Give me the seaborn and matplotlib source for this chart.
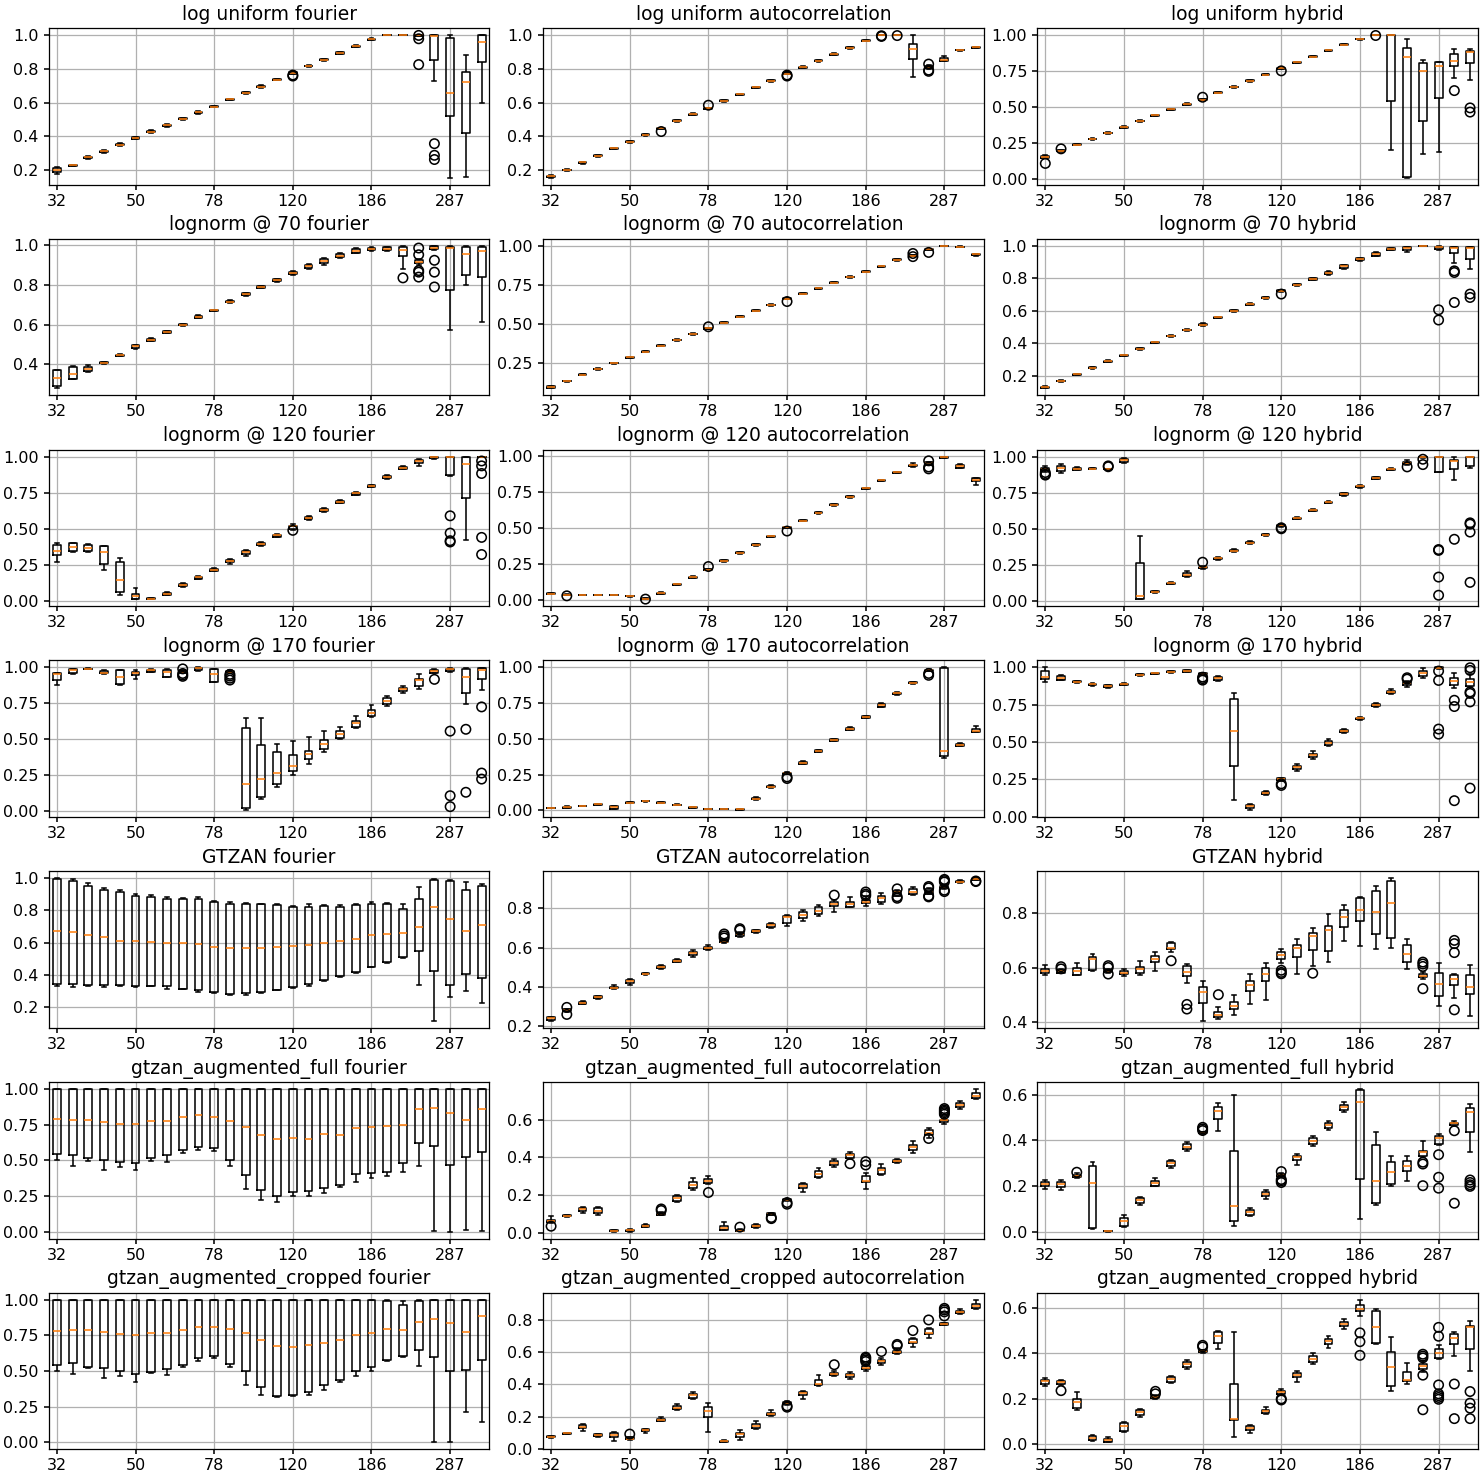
import matplotlib
matplotlib.use("Agg")
import matplotlib.pyplot as plt
from matplotlib.ticker import MaxNLocator
import pandas as pd
import seaborn as sns

# Tempo bins (BPM): 28 log-spaced bins, labelled every fifth bin
N_BINS = 28
TEMPO_TICKS = ["32", "50", "78", "120", "186", "287"]

# Each bin holds the per-run accuracy values; *_OUT lists hold (bin, value) outliers.

# ---- log uniform ----
LU_FOURIER = [
    [.175, .19, .20, .21, .215], [.222, .227, .232], [.266, .275, .283], [.302, .31, .317],
    [.342, .35, .357], [.382, .39, .397], [.418, .427, .435], [.457, .464, .471],
    [.497, .503, .509], [.533, .541, .548], [.572, .576, .580], [.612, .618, .623],
    [.651, .657, .662], [.688, .695, .702], [.731, .736, .741], [.768, .772, .776, .78, .783],
    [.811, .817, .822], [.848, .854, .86], [.887, .894, .90], [.928, .935, .941],
    [.968, .974, .98], [1.0, 1.0, 1.0], [1.0, 1.0, 1.0], [.995, .997, 1.0, 1.0, 1.0],
    [.73, .852, .995, 1.0, 1.0], [.155, .519, .657, .982, 1.0], [.159, .419, .722, .783, .882],
    [.6, .838, .957, 1.0, 1.0],
]
LU_FOURIER_OUT = [(15, .757), (15, .763), (23, .998), (23, .978), (23, .825),
                  (24, .356), (24, .287), (24, .262)]

LU_AUTO = [
    [.155, .162, .168], [.195, .2, .204], [.238, .245, .25], [.279, .285, .29],
    [.324, .329, .333], [.36, .368, .373], [.401, .408, .413], [.44, .446, .45],
    [.485, .491, .496], [.524, .529, .535], [.562, .566, .57], [.605, .61, .615],
    [.643, .648, .653], [.684, .69, .695], [.724, .729, .734], [.768, .772, .776],
    [.805, .81, .814], [.843, .848, .852], [.882, .887, .891], [.92, .925, .93],
    [.962, .966, .97], [.998, 1.0, 1.0], [1.0, 1.0, 1.0], [.754, .857, .917, .947, 1.0],
    [.80, .806, .812, .816, .82], [.845, .848, .855, .862, .875], [.907, .911, .914],
    [.922, .927, .931],
]
LU_AUTO_OUT = [(7, .428), (10, .584), (15, .757), (15, .763), (21, .992), (21, .996),
               (22, .997), (24, .828), (24, .792), (24, .785)]

LU_HYBRID = [
    [.145, .15, .156, .16, .165], [.19, .197, .203], [.235, .241, .246], [.274, .28, .285],
    [.316, .321, .326], [.356, .362, .367], [.398, .404, .408], [.437, .443, .448],
    [.478, .484, .489], [.515, .521, .526], [.547, .553, .558], [.596, .601, .606],
    [.634, .64, .645], [.677, .683, .688], [.72, .725, .73], [.765, .771, .775],
    [.807, .812, .816], [.846, .851, .856], [.889, .894, .898], [.928, .933, .937],
    [.968, .972, .976], [.999, 1.0, 1.0], [.202, .544, .998, 1.0, 1.0],
    [.012, .016, .846, .911, .975], [.172, .404, .748, .805, .826],
    [.186, .564, .784, .812, .814], [.702, .789, .819, .872, .901], [.686, .807, .885, .89, .9],
]
LU_HYBRID_OUT = [(0, .11), (1, .211), (10, .569), (15, .752), (21, .997), (26, .615),
                 (27, .495), (27, .466)]

# ---- lognorm @ 70 ----
LN70_FOURIER = [
    [.277, .29, .33, .368, .372], [.322, .324, .352, .385, .388], [.36, .366, .377, .385, .394],
    [.401, .407, .412], [.44, .445, .449], [.476, .482, .489, .494, .498],
    [.516, .519, .524, .529, .532], [.555, .557, .561, .565, .567], [.595, .599, .602],
    [.632, .635, .639, .643, .646], [.668, .672, .675], [.71, .713, .716, .72, .722],
    [.742, .748, .753, .758, .762], [.783, .786, .789, .793, .796], [.816, .819, .823, .828, .832],
    [.85, .855, .861, .865, .869], [.88, .888, .895, .9, .905], [.9, .91, .92, .93, .937],
    [.935, .94, .948, .958, .963], [.96, .963, .972, .982, .985], [.972, .975, .982, .988, .99],
    [.973, .977, .983, .99, .993], [.88, .945, .978, .993, .995], [.9, .91, .916, .925, .93],
    [.975, .98, .987, .995, .998], [.572, .773, .987, .993, .995], [.798, .851, .958, .993, .995],
    [.614, .84, .973, .993, .995],
]
LN70_FOURIER_OUT = [(22, .836), (23, .987), (23, .953), (23, .873), (23, .865), (23, .84),
                    (24, .925), (24, .865), (24, .79)]

LN70_AUTO = [
    [.086, .096, .1], [.128, .132, .135], [.169, .174, .178], [.205, .21, .214],
    [.244, .248, .251], [.279, .284, .289], [.317, .322, .326], [.356, .36, .364],
    [.391, .396, .4], [.43, .434, .438], [.465, .47, .474], [.504, .508, .512],
    [.542, .546, .55], [.579, .584, .588], [.616, .62, .624], [.657, .662, .666],
    [.689, .694, .698], [.723, .727, .731], [.759, .763, .767], [.795, .8, .804],
    [.831, .835, .839], [.865, .869, .873], [.906, .911, .915], [.933, .937, .942],
    [.972, .977, .981], [.997, .999, 1.0], [.99, .994, .997], [.937, .945, .949],
]
LN70_AUTO_OUT = [(10, .481), (15, .643), (23, .951), (23, .931), (24, .958)]

LN70_HYBRID = [
    [.122, .128, .134], [.162, .167, .172], [.202, .208, .213], [.243, .249, .254],
    [.282, .288, .294], [.32, .325, .33], [.36, .366, .372], [.4, .405, .41],
    [.439, .444, .449], [.476, .481, .486], [.505, .514, .522], [.553, .559, .564],
    [.594, .6, .605], [.634, .641, .647], [.673, .68, .686], [.717, .723, .728],
    [.752, .757, .76, .764, .768], [.787, .79, .795, .8, .805], [.822, .828, .834, .842, .848],
    [.857, .865, .877, .882, .885], [.905, .91, .918, .925, .928], [.935, .94, .949, .955, .965],
    [.972, .975, .98, .984, .986], [.96, .975, .986, .99, .993], [.997, .999, 1.0],
    [.973, .982, .99, .995, .997], [.897, .953, .986, .99, .993], [.856, .922, .986, .99, .993],
]
LN70_HYBRID_OUT = [(15, .703), (25, .606), (25, .543), (26, .846), (26, .836), (26, .651),
                   (27, .703), (27, .682)]

# ---- lognorm @ 120 ----
LN120_FOURIER = [
    [.269, .315, .347, .384, .4], [.34, .342, .375, .398, .4], [.34, .344, .366, .388, .395],
    [.211, .253, .338, .379, .382], [.039, .06, .143, .269, .297], [.011, .012, .03, .044, .085],
    [.01, .014, .017], [.037, .041, .046, .052, .062], [.097, .103, .11, .116, .125],
    [.147, .152, .161, .166, .172], [.203, .207, .214, .219, .228], [.255, .265, .274, .282, .29],
    [.31, .327, .338, .344, .35], [.38, .385, .393, .4, .408], [.44, .445, .453, .458, .462],
    [.493, .5, .515, .52, .53], [.56, .566, .575, .58, .586], [.617, .622, .63, .635, .64],
    [.675, .68, .687, .692, .697], [.733, .737, .745, .75, .755], [.788, .792, .798, .802, .806],
    [.848, .852, .86, .864, .87], [.912, .917, .924, .928, .932], [.932, .955, .968, .975, .985],
    [.985, .993, .998, 1.0, 1.0], [.866, .871, .999, 1.0, 1.0], [.423, .71, .949, 1.0, 1.0],
    [.995, .998, 1.0, 1.0, 1.0],
]
LN120_FOURIER_OUT = [(15, .488), (25, .589), (25, .469), (25, .416), (25, .407), (27, .97),
                     (27, .936), (27, .883), (27, .439), (27, .32)]

LN120_AUTO = [
    [.04, .042, .044], [.03, .033, .036], [.029, .03, .031], [.029, .03, .031],
    [.029, .03, .031], [.021, .023, .025], [.004, .007, .009], [.038, .044, .05],
    [.099, .105, .11], [.15, .156, .162], [.205, .209, .213], [.263, .27, .276],
    [.32, .326, .331], [.376, .381, .386], [.434, .44, .445], [.497, .502, .505],
    [.544, .549, .554], [.598, .605, .61], [.654, .66, .665], [.709, .716, .721],
    [.768, .774, .779], [.823, .83, .835], [.88, .886, .891], [.925, .928, .935, .938, .951],
    [.935, .94, .949, .955, .96], [.986, .991, .995], [.915, .918, .93, .94, .942],
    [.795, .825, .833, .845, .848],
]
LN120_AUTO_OUT = [(1, .026), (6, .003), (10, .23), (15, .477), (24, .966), (24, .923), (24, .91)]

LN120_HYBRID = [
    [.895, .905, .913, .918, .936], [.89, .899, .922, .936, .95], [.905, .91, .913, .918, .925],
    [.914, .917, .92], [.91, .913, .916], [.955, .96, .977, .985, .99],
    [.012, .014, .034, .261, .447], [.056, .058, .062, .066, .07], [.117, .119, .122, .126, .128],
    [.165, .17, .179, .19, .21], [.222, .225, .232, .238, .242], [.285, .288, .294, .298, .302],
    [.34, .343, .349, .353, .357], [.396, .399, .404, .408, .412], [.452, .455, .459, .463, .467],
    [.515, .518, .523, .526, .53], [.565, .568, .573, .577, .58], [.62, .623, .628, .632, .636],
    [.677, .68, .683, .687, .69], [.73, .734, .741, .745, .75], [.786, .789, .794, .798, .802],
    [.845, .848, .853, .857, .86], [.905, .908, .913, .917, .92], [.945, .95, .959, .965, .975],
    [.99, .995, 1.0, 1.0, 1.0], [.895, .897, .997, .998, 1.0], [.835, .913, .972, .975, .998],
    [.924, .936, .995, .998, 1.0],
]
LN120_HYBRID_OUT = [(0, .89), (0, .878), (0, .872), (4, .936), (4, .93), (10, .268), (15, .5),
                    (15, .507), (23, .929), (24, .982), (24, .945), (25, .356), (25, .35),
                    (25, .165), (25, .039), (26, .427), (27, .541), (27, .532), (27, .477),
                    (27, .128)]

# ---- lognorm @ 170 ----
LN170_FOURIER = [
    [.875, .912, .951, .958, .963], [.956, .958, .979, .986, .99], [.986, .99, .993],
    [.955, .958, .963, .975, .98], [.875, .882, .933, .981, .985], [.917, .944, .963, .97, .979],
    [.965, .968, .979, .984, .987], [.933, .935, .97, .984, .986], [.962, .965, .97, .975, .98],
    [.975, .985, .993, .998, 1.0], [.898, .9, .951, .986, .99], [.96, .965, .97, .975, .98],
    [.007, .019, .188, .576, .65], [.083, .1, .222, .461, .65], [.169, .188, .264, .414, .465],
    [.25, .275, .315, .389, .484], [.326, .361, .396, .419, .512], [.414, .435, .465, .493, .558],
    [.5, .505, .535, .558, .586], [.581, .588, .611, .625, .662], [.655, .663, .685, .7, .736],
    [.731, .748, .766, .789, .803], [.824, .836, .852, .86, .868], [.847, .87, .91, .921, .951],
    [.96, .963, .975, .983, .986], [.965, .972, .986, .99, .993], [.748, .824, .933, .991, .993],
    [.845, .917, .984, .993, .996],
]
LN170_FOURIER_OUT = [(8, .99), (8, .958), (8, .947), (8, .938), (11, .952), (11, .94),
                     (11, .925), (11, .912), (24, .917), (25, .556), (25, .106), (25, .03),
                     (26, .569), (26, .13), (27, .725), (27, .264), (27, .222)]

LN170_AUTO = [
    [.012, .014, .016], [.012, .015, .019, .024, .027], [.026, .028, .03], [.038, .04, .042],
    [.005, .007, .019, .03, .032], [.052, .054, .056], [.061, .063, .065], [.052, .054, .056],
    [.034, .037, .04], [.016, .019, .022], [.005, .007, .009], [.007, .009, .011],
    [.002, .005, .009], [.072, .076, .082, .088, .092], [.158, .161, .166, .17, .174],
    [.252, .255, .259, .262, .266], [.323, .326, .333, .338, .342], [.405, .408, .415, .42, .424],
    [.483, .486, .492, .497, .5], [.562, .565, .571, .577, .581], [.643, .646, .653, .658, .662],
    [.72, .725, .737, .742, .748], [.81, .813, .818, .822, .826], [.885, .888, .893, .897, .9],
    [.975, .978, .981, .984, .986], [.368, .38, .415, .998, 1.0], [.448, .452, .457, .461, .47],
    [.545, .547, .555, .567, .59],
]
LN170_AUTO_OUT = [(15, .233), (15, .222), (24, .958), (24, .945)]

LN170_HYBRID = [
    [.902, .92, .938, .976, 1.0], [.915, .918, .931, .945, .948], [.897, .9, .904, .908, .91],
    [.878, .88, .887, .892, .895], [.864, .868, .876, .882, .885], [.88, .883, .887, .891, .894],
    [.944, .947, .951, .955, .958], [.955, .96, .964], [.966, .971, .975],
    [.968, .971, .976, .98, .983], [.95, .953, .958, .962, .965], [.91, .918, .931, .936, .94],
    [.113, .342, .576, .791, .831], [.045, .055, .069, .08, .085], [.145, .15, .158, .168, .175],
    [.238, .243, .253, .258, .262], [.305, .318, .331, .338, .352], [.385, .398, .413, .42, .44],
    [.475, .482, .493, .505, .52], [.56, .565, .576, .582, .59], [.648, .652, .658, .664, .668],
    [.735, .74, .749, .755, .76], [.822, .828, .836, .842, .855], [.87, .882, .893, .9, .91],
    [.927, .945, .964, .975, .993], [.99, .995, .998, 1.0, 1.0], [.864, .88, .909, .927, .96],
    [.872, .876, .902, .92, .953],
]
LN170_HYBRID_OUT = [(10, .935), (10, .925), (10, .915), (15, .22), (15, .209), (23, .931),
                    (23, .922), (25, .976), (25, .913), (25, .587), (25, .553), (26, .78),
                    (26, .738), (26, .107), (27, .998), (27, .98), (27, .836), (27, .826),
                    (27, .769), (27, .191)]

# ---- GTZAN ----
GTZAN_FOURIER = [
    [.328, .345, .674, .996, 1.0], [.322, .345, .664, .984, .994], [.332, .334, .65, .949, .969],
    [.322, .338, .632, .929, .939], [.332, .338, .613, .915, .925], [.322, .332, .613, .888, .902],
    [.328, .332, .603, .884, .896], [.312, .328, .599, .874, .884], [.313, .314, .599, .872, .878],
    [.292, .308, .591, .874, .884], [.285, .292, .573, .853, .858], [.277, .281, .564, .843, .853],
    [.277, .288, .564, .837, .847], [.285, .292, .564, .837, .843], [.306, .308, .57, .833, .843],
    [.318, .324, .579, .823, .827], [.332, .345, .587, .823, .837], [.364, .365, .599, .825, .833],
    [.389, .393, .609, .823, .831], [.41, .42, .625, .833, .837], [.446, .45, .646, .837, .851],
    [.475, .477, .652, .841, .845], [.507, .511, .658, .811, .843], [.334, .548, .7, .868, .943],
    [.115, .426, .821, .99, .994], [.263, .338, .746, .984, .986], [.298, .406, .674, .929, .976],
    [.226, .381, .711, .953, .965],
]
GTZAN_FOURIER_OUT = []

GTZAN_AUTO = [
    [.228, .232, .24, .245, .248], [.272, .276, .282, .288, .29], [.312, .314, .319, .323, .326],
    [.34, .343, .348, .352, .356], [.392, .394, .397, .402, .408], [.412, .42, .43, .436, .44],
    [.462, .464, .467, .47, .473], [.49, .495, .501, .506, .51], [.525, .528, .533, .537, .54],
    [.555, .562, .572, .578, .59], [.59, .592, .597, .605, .615], [.625, .628, .631, .64, .645],
    [.655, .662, .67, .675, .68], [.676, .68, .684, .688, .692], [.7, .707, .717, .722, .727],
    [.712, .724, .758, .763, .768], [.734, .751, .768, .78, .792], [.76, .771, .788, .805, .817],
    [.78, .81, .825, .835, .844], [.806, .808, .822, .835, .856], [.814, .828, .835, .844, .864],
    [.822, .835, .852, .864, .881], [.865, .866, .884, .888, .892], [.869, .873, .884, .898, .911],
    [.872, .876, .884, .9, .905], [.9, .905, .91, .915, .92], [.93, .933, .937, .941, .944],
    [.945, .947, .949, .952, .954],
]
GTZAN_AUTO_OUT = [(1, .296), (1, .26), (11, .67), (11, .66), (11, .65), (12, .697), (12, .69),
                  (18, .868), (20, .884), (20, .873), (20, .865), (22, .9), (22, .86), (22, .852),
                  (24, .912), (24, .905), (24, .864), (24, .859), (25, .948), (25, .942),
                  (25, .935), (25, .893), (25, .886), (27, .937), (27, .94)]

GTZAN_HYBRID = [
    [.573, .581, .589, .596, .608], [.578, .58, .586, .59, .593], [.571, .573, .586, .597, .615],
    [.589, .591, .631, .639, .651], [.58, .582, .586, .59, .595], [.567, .575, .581, .587, .593],
    [.573, .581, .593, .603, .625], [.589, .621, .63, .644, .657], [.657, .669, .673, .69, .694],
    [.543, .569, .585, .605, .613], [.404, .468, .51, .527, .549], [.412, .417, .424, .436, .454],
    [.425, .448, .46, .474, .497], [.464, .512, .534, .551, .575], [.482, .551, .576, .597, .617],
    [.617, .63, .645, .657, .669], [.575, .637, .672, .682, .706], [.605, .663, .715, .726, .744],
    [.619, .66, .738, .754, .796], [.697, .748, .788, .812, .83], [.678, .772, .811, .857, .859],
    [.669, .724, .805, .883, .899], [.673, .709, .836, .92, .929], [.595, .619, .651, .682, .706],
    [.557, .565, .57, .576, .585], [.458, .494, .54, .579, .617], [.486, .534, .557, .573, .575],
    [.422, .504, .53, .573, .609],
]
GTZAN_HYBRID_OUT = [(1, .603), (1, .595), (4, .607), (4, .6), (4, .576), (8, .625), (9, .464),
                    (9, .447), (11, .5), (15, .59), (15, .582), (15, .577), (17, .579),
                    (24, .62), (24, .613), (24, .604), (24, .522), (26, .7), (26, .688),
                    (26, .655), (26, .444)]

# ---- gtzan_augmented_full ----
AUGFULL_FOURIER = [
    [.503, .543, .788, 1.0, 1.0], [.462, .538, .781, 1.0, 1.0], [.497, .513, .783, 1.0, 1.0],
    [.431, .503, .772, 1.0, 1.0], [.45, .49, .753, 1.0, 1.0], [.434, .478, .753, 1.0, 1.0],
    [.497, .513, .776, 1.0, 1.0], [.485, .538, .776, 1.0, 1.0], [.55, .573, .804, 1.0, 1.0],
    [.573, .594, .818, 1.0, 1.0], [.566, .585, .807, 1.0, 1.0], [.462, .503, .776, 1.0, 1.0],
    [.298, .399, .73, 1.0, 1.0], [.224, .291, .676, 1.0, 1.0], [.21, .252, .648, 1.0, 1.0],
    [.247, .275, .655, 1.0, 1.0], [.252, .287, .65, 1.0, 1.0], [.268, .303, .683, 1.0, 1.0],
    [.31, .329, .676, 1.0, 1.0], [.35, .403, .725, 1.0, 1.0], [.373, .41, .734, 1.0, 1.0],
    [.387, .42, .741, 1.0, 1.0], [.42, .478, .748, 1.0, 1.0], [.462, .618, .858, 1.0, 1.0],
    [.002, .601, .865, 1.0, 1.0], [0.0, .469, .83, 1.0, 1.0], [.014, .524, .783, 1.0, 1.0],
    [.005, .559, .858, 1.0, 1.0],
]
AUGFULL_FOURIER_OUT = []

AUGFULL_AUTO = [
    [.052, .058, .063, .072, .089], [.088, .09, .093, .096, .098], [.107, .115, .128, .133, .14],
    [.096, .105, .119, .133, .136], [.009, .011, .014, .017, .019], [.009, .012, .015, .018, .021],
    [.032, .035, .04, .045, .05], [.094, .097, .101, .105, .11], [.165, .168, .185, .195, .203],
    [.229, .241, .255, .268, .289], [.259, .264, .273, .285, .303], [.016, .019, .028, .037, .058],
    [.01, .012, .014, .017, .02], [.03, .034, .04, .044, .047], [.094, .097, .101, .105, .108],
    [.17, .174, .177, .18, .183], [.215, .236, .25, .261, .263], [.289, .299, .315, .329, .346],
    [.352, .36, .373, .38, .39], [.39, .398, .411, .42, .429], [.233, .268, .276, .303, .32],
    [.307, .315, .332, .342, .364], [.373, .377, .381, .385, .39], [.425, .44, .455, .468, .486],
    [.504, .518, .53, .544, .556], [.578, .585, .595, .6, .605], [.658, .665, .675, .685, .696],
    [.709, .712, .726, .74, .761],
]
AUGFULL_AUTO_OUT = [(0, .037), (7, .128), (7, .12), (10, .215), (12, .032), (14, .077),
                    (14, .083), (15, .162), (15, .153), (19, .367), (20, .378), (20, .36),
                    (24, .5), (25, .658), (25, .65), (25, .643), (25, .636), (25, .628)]

AUGFULL_HYBRID = [
    [.187, .199, .209, .216, .226], [.182, .197, .209, .219, .226], [.235, .238, .245, .25, .255],
    [.012, .015, .212, .289, .304], [0.0, .001, .003], [.021, .023, .044, .06, .073],
    [.117, .125, .139, .148, .153], [.198, .201, .213, .222, .234], [.279, .286, .301, .31, .314],
    [.355, .362, .372, .383, .391], [.428, .43, .432, .435, .438], [.442, .493, .53, .545, .562],
    [.026, .044, .111, .352, .6], [.067, .073, .085, .096, .104], [.143, .155, .165, .172, .18],
    [.24, .244, .248, .252, .256], [.293, .315, .326, .333, .34], [.377, .384, .396, .41, .42],
    [.447, .453, .467, .476, .486], [.523, .533, .545, .556, .566], [.055, .231, .569, .622, .625],
    [.117, .124, .223, .38, .435], [.201, .209, .26, .307, .33], [.223, .267, .286, .308, .33],
    [.328, .333, .347, .355, .396], [.38, .384, .409, .42, .428], [.465, .468, .474, .478, .486],
    [.347, .438, .526, .542, .559],
]
AUGFULL_HYBRID_OUT = [(2, .26), (10, .457), (10, .45), (10, .443), (15, .263), (15, .228),
                      (15, .222), (15, .215), (24, .304), (24, .296), (24, .201), (25, .337),
                      (25, .238), (25, .19), (26, .442), (26, .124), (27, .226), (27, .215),
                      (27, .205), (27, .198)]

# ---- gtzan_augmented_cropped ----
AUGCROP_FOURIER = [
    [.501, .543, .781, 1.0, 1.0], [.476, .554, .785, 1.0, 1.0], [.52, .527, .785, 1.0, 1.0],
    [.45, .522, .776, 1.0, 1.0], [.462, .501, .76, 1.0, 1.0], [.423, .48, .753, 1.0, 1.0],
    [.485, .492, .769, 1.0, 1.0], [.469, .515, .769, 1.0, 1.0], [.527, .545, .785, 1.0, 1.0],
    [.573, .589, .811, 1.0, 1.0], [.589, .607, .811, 1.0, 1.0], [.527, .55, .797, 1.0, 1.0],
    [.404, .497, .769, 1.0, 1.0], [.335, .388, .716, 1.0, 1.0], [.319, .326, .677, 1.0, 1.0],
    [.323, .33, .672, 1.0, 1.0], [.335, .353, .681, 1.0, 1.0], [.365, .404, .7, 1.0, 1.0],
    [.423, .439, .718, 1.0, 1.0], [.464, .497, .755, 1.0, 1.0], [.503, .527, .769, 1.0, 1.0],
    [.573, .58, .792, .993, 1.0], [.596, .603, .785, .965, .993], [.536, .649, .843, .995, .998],
    [0.0, .596, .868, 1.0, 1.0], [0.0, .497, .834, 1.0, 1.0], [.215, .508, .776, 1.0, 1.0],
    [.145, .577, .885, 1.0, 1.0],
]
AUGCROP_FOURIER_OUT = []

AUGCROP_AUTO = [
    [.065, .07, .074, .078, .08], [.09, .093, .095, .098, .1], [.111, .128, .138, .148, .155],
    [.075, .079, .085, .09, .094], [.05, .07, .085, .1, .105], [.055, .059, .062, .07, .075],
    [.097, .108, .115, .12, .125], [.172, .175, .177, .185, .2], [.243, .248, .256, .265, .275],
    [.31, .318, .332, .342, .355], [.105, .198, .235, .26, .285], [.04, .043, .047, .051, .054],
    [.055, .075, .091, .1, .115], [.12, .13, .142, .155, .175], [.205, .21, .214, .22, .24],
    [.27, .275, .285, .29, .295], [.31, .335, .346, .355, .36], [.39, .395, .404, .425, .46],
    [.45, .455, .462, .468, .48], [.435, .445, .456, .462, .477], [.482, .495, .503, .512, .52],
    [.522, .535, .542, .552, .565], [.59, .595, .6, .605, .625], [.632, .655, .666, .682, .69],
    [.69, .715, .72, .745, .75], [.768, .771, .775, .778, .782], [.84, .845, .852, .858, .865],
    [.865, .872, .889, .9, .925],
]
AUGCROP_AUTO_OUT = [(5, .091), (15, .266), (15, .258), (18, .522), (20, .569), (20, .561),
                    (20, .552), (20, .542), (21, .604), (22, .648), (22, .64), (23, .734),
                    (24, .8), (25, .872), (25, .862), (25, .85), (25, .825)]

AUGCROP_HYBRID = [
    [.255, .265, .277, .283, .29], [.262, .265, .272, .28, .284], [.149, .161, .186, .2, .229],
    [.016, .019, .029, .035, .043], [.009, .012, .019, .025, .033], [.055, .059, .081, .094, .099],
    [.12, .13, .142, .15, .154], [.2, .204, .21, .214, .218], [.27, .273, .287, .295, .301],
    [.33, .342, .351, .36, .37], [.402, .405, .409, .413, .416], [.417, .446, .475, .494, .5],
    [.033, .106, .113, .265, .494], [.052, .062, .074, .082, .087], [.132, .139, .146, .152, .164],
    [.218, .222, .229, .235, .243], [.275, .294, .304, .313, .323], [.352, .364, .377, .389, .4],
    [.422, .443, .454, .461, .478], [.507, .519, .529, .536, .552], [.562, .584, .596, .613, .635],
    [.443, .446, .514, .587, .594], [.236, .255, .342, .406, .472], [.265, .28, .283, .32, .359],
    [.319, .333, .345, .355, .367], [.374, .381, .4, .42, .435], [.388, .439, .468, .483, .494],
    [.323, .42, .514, .522, .543],
]
AUGCROP_HYBRID_OUT = [(1, .236), (7, .233), (7, .222), (10, .435), (10, .428), (15, .2),
                      (15, .195), (20, .49), (20, .451), (20, .391), (24, .396), (24, .388),
                      (24, .38), (24, .304), (24, .152), (25, .514), (25, .475), (25, .261),
                      (25, .222), (25, .214), (25, .206), (25, .198), (26, .265), (26, .113),
                      (27, .232), (27, .181), (27, .159), (27, .113)]

PANELS = [
    ("log uniform fourier", LU_FOURIER, LU_FOURIER_OUT),
    ("log uniform autocorrelation", LU_AUTO, LU_AUTO_OUT),
    ("log uniform hybrid", LU_HYBRID, LU_HYBRID_OUT),
    ("lognorm @ 70 fourier", LN70_FOURIER, LN70_FOURIER_OUT),
    ("lognorm @ 70 autocorrelation", LN70_AUTO, LN70_AUTO_OUT),
    ("lognorm @ 70 hybrid", LN70_HYBRID, LN70_HYBRID_OUT),
    ("lognorm @ 120 fourier", LN120_FOURIER, LN120_FOURIER_OUT),
    ("lognorm @ 120 autocorrelation", LN120_AUTO, LN120_AUTO_OUT),
    ("lognorm @ 120 hybrid", LN120_HYBRID, LN120_HYBRID_OUT),
    ("lognorm @ 170 fourier", LN170_FOURIER, LN170_FOURIER_OUT),
    ("lognorm @ 170 autocorrelation", LN170_AUTO, LN170_AUTO_OUT),
    ("lognorm @ 170 hybrid", LN170_HYBRID, LN170_HYBRID_OUT),
    ("GTZAN fourier", GTZAN_FOURIER, GTZAN_FOURIER_OUT),
    ("GTZAN autocorrelation", GTZAN_AUTO, GTZAN_AUTO_OUT),
    ("GTZAN hybrid", GTZAN_HYBRID, GTZAN_HYBRID_OUT),
    ("gtzan_augmented_full fourier", AUGFULL_FOURIER, AUGFULL_FOURIER_OUT),
    ("gtzan_augmented_full autocorrelation", AUGFULL_AUTO, AUGFULL_AUTO_OUT),
    ("gtzan_augmented_full hybrid", AUGFULL_HYBRID, AUGFULL_HYBRID_OUT),
    ("gtzan_augmented_cropped fourier", AUGCROP_FOURIER, AUGCROP_FOURIER_OUT),
    ("gtzan_augmented_cropped autocorrelation", AUGCROP_AUTO, AUGCROP_AUTO_OUT),
    ("gtzan_augmented_cropped hybrid", AUGCROP_HYBRID, AUGCROP_HYBRID_OUT),
]

LW = 1.13
fig, axes = plt.subplots(7, 3, figsize=(14.8, 14.79), dpi=100)
fig.subplots_adjust(left=0.0331, right=0.9986, top=0.9811, bottom=0.0200,
                    wspace=0.122, hspace=0.345)
order = list(range(N_BINS))

for ax, (title, boxes, outliers) in zip(axes.flat, PANELS):
    rows = [(i, v) for i, sample in enumerate(boxes) for v in sample]
    df = pd.DataFrame(rows, columns=["bin", "accuracy"])
    sns.boxplot(
        data=df, x="bin", y="accuracy", order=order, whis=(0, 100), width=0.5,
        fill=False, color="black", linewidth=LW, showfliers=False,
        medianprops={"color": "#ff7f0e"}, ax=ax,
    )
    if outliers:
        od = pd.DataFrame(outliers, columns=["bin", "accuracy"])
        sns.scatterplot(
            data=od, x="bin", y="accuracy", marker="o", s=(6 * LW) ** 2,
            facecolor="none", edgecolor="black", linewidth=LW, ax=ax, zorder=3,
        )
    ax.set_xticks(range(0, N_BINS, 5), TEMPO_TICKS)
    ax.set_xlim(-0.5, N_BINS - 0.5)
    ax.yaxis.set_major_locator(MaxNLocator(nbins=5, steps=[1, 2, 2.5, 5, 10]))
    ax.tick_params(labelsize=11.5, width=LW, length=3.5 * LW)
    ax.tick_params(axis="x", pad=2.5)
    ax.grid(True, linewidth=0.8 * LW)
    for spine in ax.spines.values():
        spine.set_linewidth(0.8 * LW)
    ax.set_title(title, fontsize=13.5)
    ax.set(xlabel="", ylabel="")

fig.savefig("out.png", dpi=100)
